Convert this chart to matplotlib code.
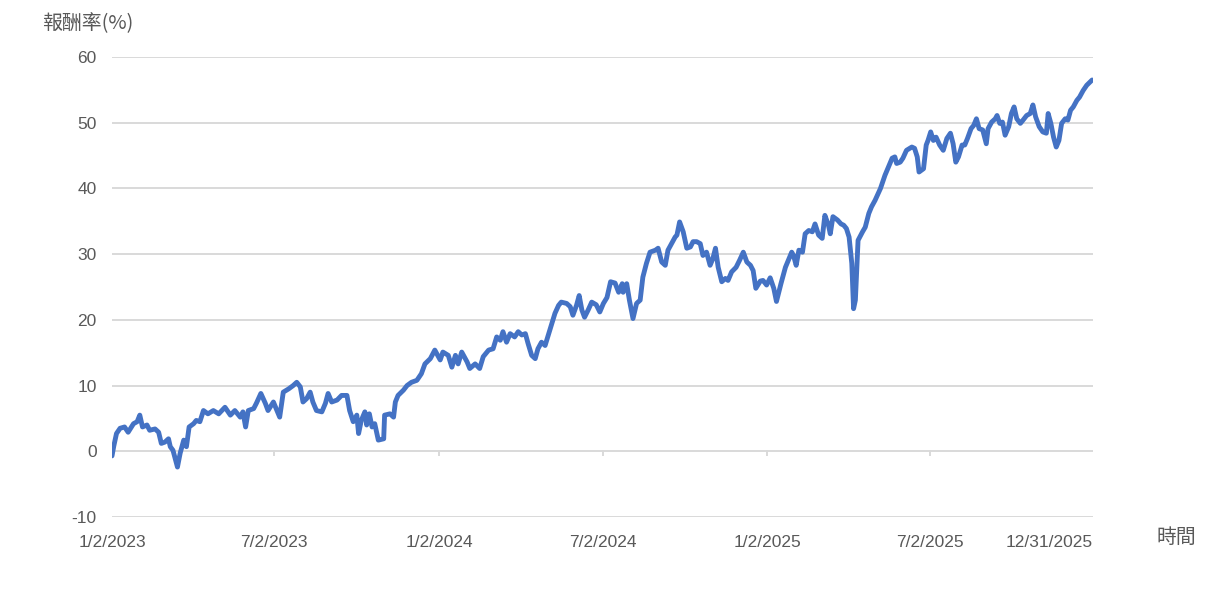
import numpy as np
import matplotlib
matplotlib.use("Agg")
import matplotlib.pyplot as plt

# cumulative return (%), days counted from 2023-01-02
days_since_start = [
    0, 2, 5, 9, 14, 18, 24, 28, 31, 34, 39, 42, 48, 52, 55, 59, 63, 65, 68, 73,
    76, 80, 83, 86, 91, 94, 98, 102, 107, 113, 119, 126, 132, 137, 143, 146, 149, 152, 158, 161,
    166, 171, 174, 180, 184, 187, 191, 197, 202, 206, 210, 213, 217, 221, 224, 228, 234, 238, 241, 245,
    251, 256, 262, 265, 269, 273, 275, 278, 282, 284, 287, 290, 293, 297, 303, 304, 310, 314, 316, 319,
    325, 329, 334, 340, 345, 349, 355, 360, 366, 369, 375, 379, 383, 386, 390, 396, 399, 405, 410, 414,
    420, 425, 429, 433, 436, 440, 444, 449, 453, 457, 461, 464, 468, 472, 475, 479, 483, 487, 490, 494,
    498, 501, 507, 511, 514, 518, 521, 524, 527, 531, 535, 540, 544, 548, 552, 556, 561, 565, 569, 570,
    574, 577, 581, 585, 589, 592, 596, 600, 606, 609, 613, 617, 620, 624, 628, 630, 633, 637, 641, 645,
    648, 652, 656, 659, 663, 667, 670, 673, 676, 680, 684, 687, 691, 696, 700, 704, 708, 712, 715, 718,
    723, 726, 730, 734, 738, 741, 746, 751, 755, 758, 760, 763, 766, 770, 773, 777, 781, 784, 788, 792,
    795, 799, 801, 804, 809, 813, 816, 819, 822, 825, 827, 829, 832, 837, 840, 844, 847, 851, 857, 862,
    866, 870, 873, 875, 879, 882, 886, 892, 895, 898, 900, 905, 908, 910, 913, 916, 919, 923, 927, 931,
    935, 938, 941, 944, 948, 951, 954, 958, 961, 964, 967, 971, 975, 977, 981, 985, 987, 990, 993, 996,
    1000, 1003, 1006, 1009, 1013, 1016, 1020, 1024, 1027, 1030, 1034, 1038, 1042, 1044, 1047, 1050, 1053, 1056, 1059, 1063,
    1066, 1069, 1072, 1076, 1079, 1083, 1087, 1093,
]
returns_pct = [
    -0.7, 0.8, 2.7, 3.5, 3.7, 2.9, 4.2, 4.5, 5.5, 3.7, 4.0, 3.2, 3.4, 2.9, 1.2, 1.4, 1.9, 0.7, 0.15, -2.4,
    -0.3, 1.7, 0.7, 3.7, 4.2, 4.7, 4.5, 6.2, 5.7, 6.2, 5.7, 6.7, 5.5, 6.2, 5.2, 6.0, 3.7, 6.2, 6.5, 7.3,
    8.8, 7.3, 6.2, 7.5, 6.2, 5.2, 9.0, 9.5, 10.0, 10.5, 9.8, 7.5, 8.0, 9.0, 7.5, 6.2, 6.0, 7.3, 8.8, 7.5,
    7.8, 8.5, 8.5, 6.2, 4.5, 5.5, 2.7, 4.7, 6.0, 4.0, 5.7, 3.7, 4.2, 1.7, 1.9, 5.5, 5.7, 5.2, 7.5, 8.5,
    9.3, 10.0, 10.5, 10.8, 11.8, 13.3, 14.1, 15.4, 13.9, 15.1, 14.6, 12.8, 14.6, 13.3, 15.1, 13.6, 12.6, 13.3, 12.6, 14.4,
    15.4, 15.6, 17.4, 16.9, 18.2, 16.6, 17.9, 17.4, 18.2, 17.7, 17.9, 16.4, 14.6, 14.1, 15.6, 16.6, 16.1, 17.9, 19.2, 21.0,
    22.2, 22.7, 22.5, 22.0, 20.7, 22.2, 23.7, 21.5, 20.4, 21.5, 22.7, 22.3, 21.2, 22.5, 23.4, 25.8, 25.6, 24.2, 25.5, 24.2,
    25.5, 23.0, 20.2, 22.5, 23.0, 26.5, 28.6, 30.3, 30.6, 30.9, 28.8, 28.3, 30.6, 31.6, 32.6, 32.9, 34.9, 33.4, 30.9, 31.1,
    31.9, 31.9, 31.6, 29.8, 30.3, 28.3, 29.3, 30.9, 28.0, 25.8, 26.3, 26.0, 27.3, 28.0, 29.1, 30.3, 28.8, 28.3, 27.5, 24.8,
    25.9, 26.0, 25.3, 26.4, 24.8, 22.8, 25.5, 28.0, 29.3, 30.3, 29.8, 28.3, 30.6, 30.3, 33.1, 33.6, 33.4, 34.6, 32.9, 32.4,
    35.9, 34.4, 33.1, 35.7, 35.2, 34.6, 34.4, 33.9, 32.6, 28.6, 21.7, 23.0, 32.1, 33.4, 34.1, 36.2, 37.2, 38.2, 40.0, 42.0,
    43.3, 44.6, 44.8, 43.8, 44.0, 44.6, 45.8, 46.3, 46.1, 44.8, 42.5, 43.0, 46.6, 47.3, 48.6, 47.3, 47.8, 46.6, 45.8, 47.6,
    48.4, 46.8, 44.0, 44.8, 46.6, 46.6, 47.6, 49.1, 49.6, 50.6, 49.1, 48.9, 46.8, 49.1, 50.1, 50.6, 51.1, 49.9, 50.1, 48.1,
    49.4, 51.4, 52.4, 50.6, 49.9, 50.4, 51.1, 51.4, 52.7, 50.9, 49.4, 48.6, 48.4, 51.4, 49.9, 47.8, 46.3, 47.3, 49.9, 50.6,
    50.4, 51.9, 52.4, 53.4, 53.9, 54.9, 55.7, 56.5,
]

tick_dates = ["2023-01-02", "2023-07-02", "2024-01-02", "2024-07-02",
              "2025-01-02", "2025-07-02", "2025-12-31"]
tick_labels = ["1/2/2023", "7/2/2023", "1/2/2024", "7/2/2024",
               "1/2/2025", "7/2/2025", "12/31/2025"]
y_ticks = [-10, 0, 10, 20, 30, 40, 50, 60]

start = np.datetime64("2023-01-02")
dates = start + np.array(days_since_start).astype("timedelta64[D]")
tick_pos = np.array(tick_dates, dtype="datetime64[D]")

line_color = "#4472C4"
grid_color = "#D9D9D9"
text_color = "#595959"
cjk = ["Noto Sans CJK TC", "DejaVu Sans"]

plt.rcParams["font.family"] = ["Liberation Sans", "DejaVu Sans"]

fig = plt.figure(figsize=(12.22, 5.92), dpi=100)
ax = fig.add_axes([112 / 1222, 1 - 517 / 592, (1093 - 112) / 1222, (517 - 57) / 592])

for yv in y_ticks:
    ax.axhline(yv, color=grid_color, lw=1.4, zorder=1)
# small tick marks hanging from the zero line
for tp in tick_pos[1:-1]:
    ax.plot([tp, tp], [0, -0.55], color=grid_color, lw=1.4, zorder=1)

ax.plot(dates, returns_pct, color=line_color, lw=3.5, solid_joinstyle="round",
        solid_capstyle="round", zorder=3)

ax.set_xlim(tick_pos[0], tick_pos[-1])
ax.set_ylim(-10, 60)
ax.set_yticks(y_ticks)
ax.set_yticklabels([str(v) for v in y_ticks])
ax.set_xticks(tick_pos)
ax.set_xticklabels(tick_labels)
ax.tick_params(axis="both", length=0, labelsize=12.5, colors=text_color)
ax.tick_params(axis="y", pad=11)
ax.tick_params(axis="x", pad=13)
ax.get_xticklabels()[-1].set_horizontalalignment("right")
for s in ax.spines.values():
    s.set_visible(False)

fig.text(42 / 1222, 1 - 24 / 592, "報酬率(%)", family=cjk, fontsize=14.3,
         color=text_color, ha="left", va="center")
fig.text(1157 / 1222, 1 - 537 / 592, "時間", family=cjk, fontsize=14.3,
         color=text_color, ha="left", va="center")

fig.savefig("out.png", dpi=100)
